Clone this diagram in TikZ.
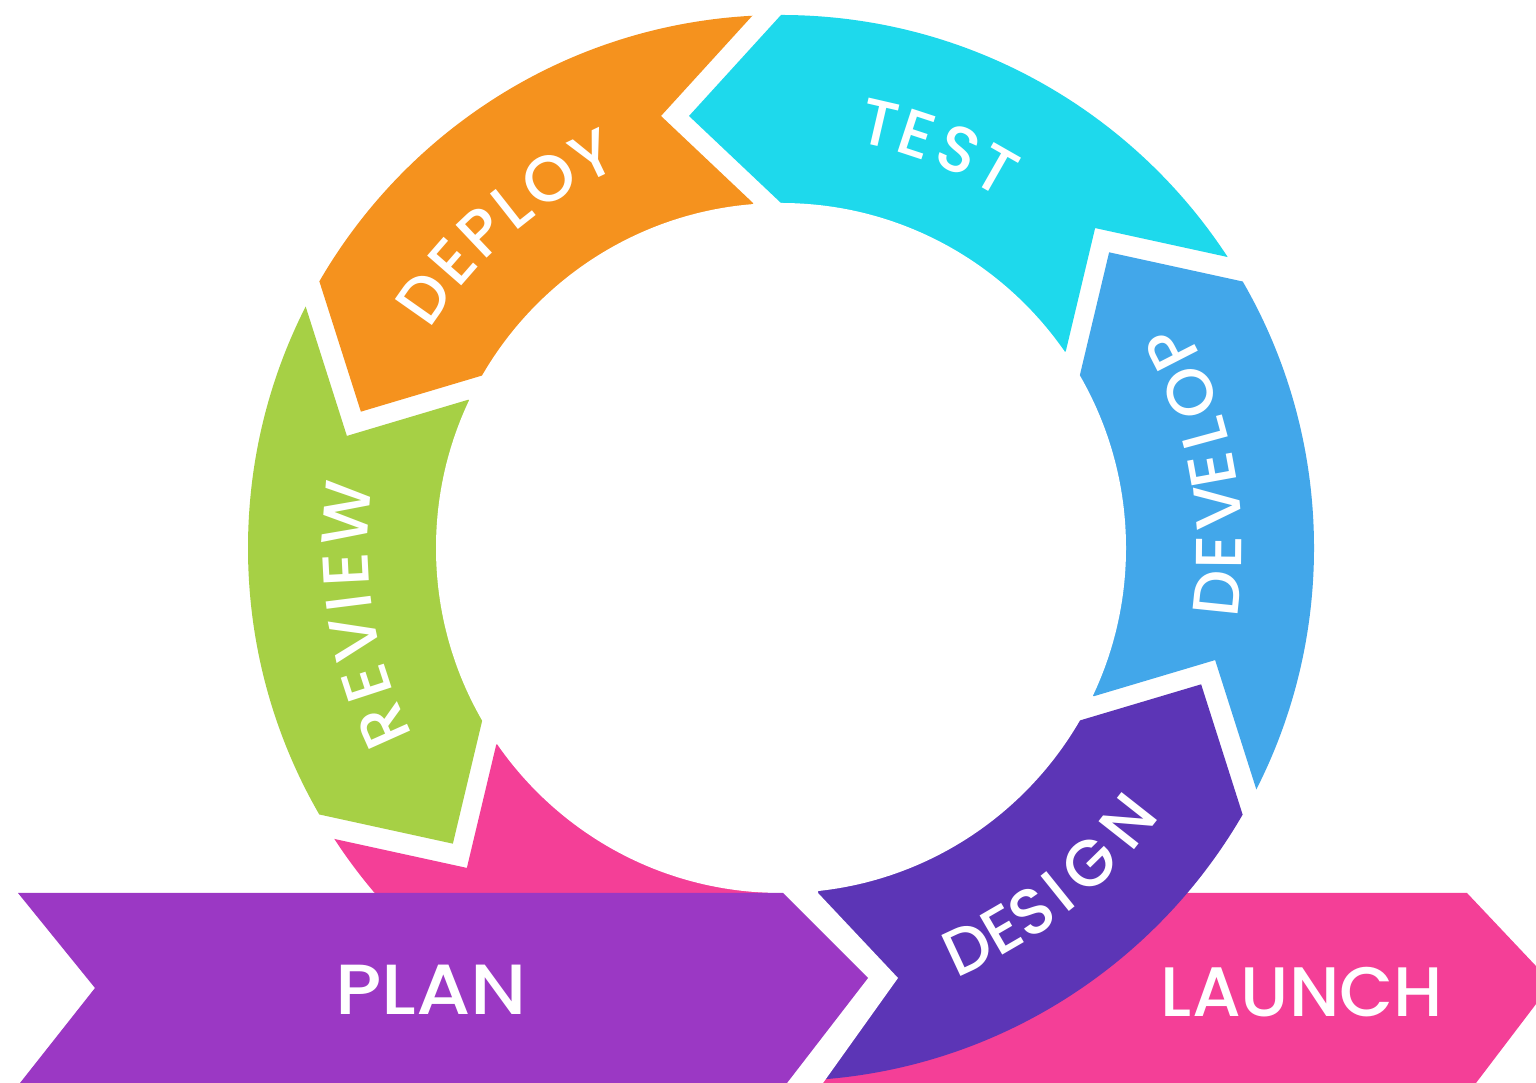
\documentclass[tikz,border=0pt]{standalone}
\usepackage{fontspec}
\setmainfont{Poppins}
\IfFontExistsTF{Poppins Medium}{\newfontfamily\lblfam{Poppins Medium}}{%
  \IfFontExistsTF{Poppins SemiBold}{\newfontfamily\lblfam{Poppins SemiBold}}{\newfontfamily\lblfam{Poppins}}}
\usetikzlibrary{calc}
\definecolor{cOrange}{HTML}{F5921E}
\definecolor{cCyan}{HTML}{1ED9EC}
\definecolor{cBlue}{HTML}{42A7EA}
\definecolor{cIndigo}{HTML}{5C35B6}
\definecolor{cViolet}{HTML}{9B38C4}
\definecolor{cGreen}{HTML}{A6D045}
\definecolor{cPink}{HTML}{F43F97}
% ring segment: colour, tail angle, head angle (head points counter-clockwise)
\newcommand\ringseg[3]{%
  \fill[#1] ($(C)+(#2:250)+(#2+90:28)$) -- ($(C)+(#2:345)+(#2+90:28)$)
    -- ($(C)+(#2:432)+(#2+90:120)$) -- ($(C)+(#2:533)+(#2+90:28)$)
    -- ($(C)+(#2:700)+(#2+90:28)$) -- ($(C)+({(#2+#3)/2}:900)$)
    -- ($(C)+(#3:700)$) -- ($(C)+(#3:533)$) -- ($(C)+(#3:432)+(#3+90:92)$)
    -- ($(C)+(#3:345)$) -- ($(C)+(#3:250)$) -- cycle;}
\tikzset{
  ltr/.style={text=white, inner sep=0pt, anchor=base, font=\lblfam\fontsize{65}{70}\selectfont},
  bannertext/.style={text=white, anchor=base, inner sep=0pt, font=\lblfam\fontsize{70}{80}\selectfont}
}
\begin{document}
\begin{tikzpicture}[x=1pt,y=1pt]
\useasboundingbox (0,0) rectangle (1536,1083);
\clip (0,0) rectangle (1536,1083);
\fill[white] (0,0) rectangle (1536,1083);
\coordinate (C) at (781,535);
% LAUNCH banner (under the ring)
\fill[cPink] (800,190) -- (1467,190) -- (1552,100) -- (1476,0) -- (1470,-10) -- (800,-10) -- cycle;
% ring
\begin{scope}
  \clip (C) circle (533);
  \ringseg{cPink}{210}{290}
  \ringseg{cGreen}{150}{210}
  \ringseg{cOrange}{90}{150}
  \ringseg{cCyan}{30}{90}
  \ringseg{cBlue}{-30}{30}
  \fill[cIndigo] (790,260) -- (790,-60) -- (1500,-60) -- ($(C)+(-30:700)$)
    -- ($(C)+(-30:533)$) -- ($(C)+(-30:432)+(60:92)$) -- ($(C)+(-30:345)$)
    -- ($(C)+(-30:250)$) -- cycle;
\end{scope}
\fill[white] (C) circle (345);
% PLAN banner with white outline round its tip
\fill[white] (783,196) -- (818,196) -- (818,190) -- (898,105) -- (823,0) -- (823,-10) -- (783,-10) -- cycle;
\fill[cViolet] (18,190) -- (783,190) -- (868,105) -- (787,0) -- (20,0) -- (95,95) -- cycle;
\node[bannertext, font=\lblfam\fontsize{71}{80}\selectfont] (plan) at (431,68) {\scalebox{1.1}[1]{PLAN}};
\node[bannertext] (launch) at (1302,66) {LAUNCH};
% ring labels, letter by letter along the ring
\foreach \a/\l [count=\i] in {77.0/T, 71.8/E, 65.9/S, 60.3/T}
  \node[ltr, rotate=\a-90] (test\i) at ($(C)+(\a:413)$) {\l};
\foreach \a/\l [count=\i] in {144.9/D, 138.9/E, 133.4/P, 128.2/L, 122.1/O, 115.6/Y}
  \node[ltr, rotate=\a-90] (deploy\i) at ($(C)+(\a:413)$) {\l};
\foreach \a/\l [count=\i] in {204.1/R, 198.1/E, 191.9/V, 187.2/I, 182.9/E, 175.4/W}
  \node[ltr, rotate=\a-90] (review\i) at ($(C)+(\a:413)$) {\l};
\foreach \a/\l [count=\i] in {-5.9/D, -0.5/E, 5.3/V, 10.3/E, 15.2/L, 20.8/O, 27.1/P}
  \node[ltr, rotate=\a+90] (develop\i) at ($(C)+(\a:461)$) {\l};
\foreach \a/\l [count=\i] in {-65.0/D, -59.9/E, -55.4/S, -51.2/I, -45.6/G, -38.2/N}
  \node[ltr, rotate=\a+90] (design\i) at ($(C)+(\a:464)$) {\l};
\end{tikzpicture}
\end{document}
